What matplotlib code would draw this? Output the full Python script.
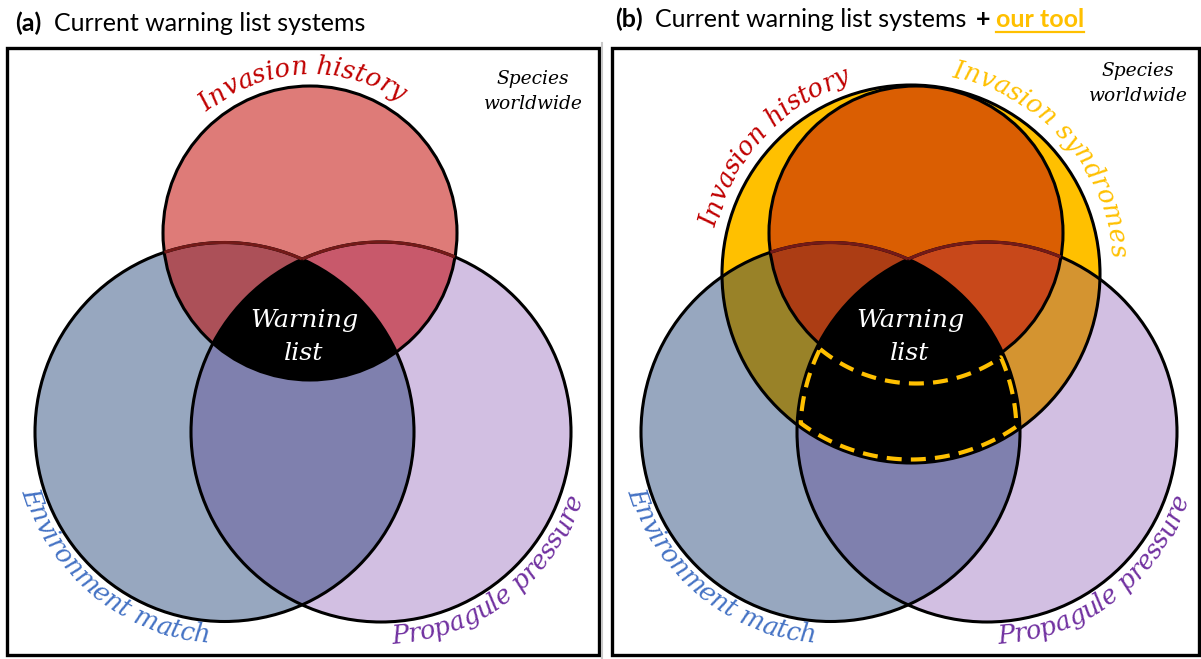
import numpy as np
import matplotlib
matplotlib.use("Agg")
import matplotlib.pyplot as plt
from matplotlib.patches import Circle, Rectangle
from matplotlib.font_manager import FontProperties
from matplotlib.colors import to_rgb

# ---------------- data ----------------
panel_tags = ["(a)", "(b)"]
title_text = "Current warning list systems"
plus_text = "+"
tool_text = "our tool"
label_history = "Invasion history"
label_env = "Environment match"
label_prop = "Propagule pressure"
label_syndromes = "Invasion syndromes"
universe_lines = ["Species", "worldwide"]
core_lines = ["Warning", "list"]

# region colours
col_red, col_blue, col_purple = "#DF7B79", "#97A7BF", "#D3BFE2"
col_bp, col_rb, col_rp, col_core = "#7F80AE", "#AC5058", "#C95A6B", "#000000"
col_yel, col_ry, col_yb, col_yp = "#FFC000", "#DA5E02", "#9A8229", "#D59430"
col_ryb, col_ryp = "#AC3D14", "#C9481A"
txt_red, txt_blue, txt_purple, txt_gold = "#C00000", "#4472C4", "#7030A0", "#FFC000"

# ---------------- layout (pixels, y down) ----------------
W, H = 1201, 659
DX = 606                      # horizontal offset of panel (b)
RED = (310.0, 233.0, 147.0)
BLUE = (224.5, 432.0, 189.5)
PURP = (381.0, 432.0, 190.0)
YEL = (305.0, 274.0, 189.0)   # panel (b) only

def shift(c, dx):
    return (c[0] + dx, c[1], c[2])

fig = plt.figure(figsize=(W / 100, H / 100), dpi=100)
ax = fig.add_axes([0, 0, 1, 1])
ax.set_xlim(0, W)
ax.set_ylim(H, 0)
ax.axis("off")
renderer = fig.canvas.get_renderer()

# ---------------- fills (per-pixel region membership) ----------------
ss = 0.5
xs = np.arange(0, W, ss) + ss / 2
ys = np.arange(0, H, ss) + ss / 2
X, Y = np.meshgrid(xs, ys)

def inside(c):
    return (X - c[0]) ** 2 + (Y - c[1]) ** 2 <= c[2] ** 2

img = np.ones(X.shape + (3,))

def paint(mask, col):
    img[mask] = to_rgb(col)

# panel (a)
Ra, Ba, Pa = inside(RED), inside(BLUE), inside(PURP)
paint(Ba, col_blue); paint(Pa, col_purple); paint(Ra, col_red)
paint(Ba & Pa, col_bp); paint(Ra & Ba, col_rb); paint(Ra & Pa, col_rp)
paint(Ra & Ba & Pa, col_core)

# panel (b)
Rb, Bb, Pb, Yb = (inside(shift(RED, DX)), inside(shift(BLUE, DX)),
                  inside(shift(PURP, DX)), inside(shift(YEL, DX)))
RY = Rb | Yb
paint(Bb, col_blue); paint(Pb, col_purple); paint(Bb & Pb, col_bp)
paint(Yb, col_yel); paint(Rb, col_ry)
paint(Yb & Bb & ~Rb, col_yb); paint(Yb & Pb & ~Rb, col_yp)
paint(Rb & Bb, col_ryb); paint(Rb & Pb, col_ryp)
paint(RY & Bb & Pb, col_core)

ax.imshow(img, extent=(0, W, H, 0), interpolation="antialiased", zorder=1)

# ---------------- outlines ----------------
LW = 2.2
def outline(c, color="black", lw=LW, z=3):
    ax.add_patch(Circle(c[:2], c[2], fill=False, ec=color, lw=lw, zorder=z))

t = np.linspace(0, 2 * np.pi, 4000)
def arc_pts(c):
    return c[0] + c[2] * np.cos(t), c[1] - c[2] * np.sin(t)

def in_c(x, y, c):
    return (x - c[0]) ** 2 + (y - c[1]) ** 2 < c[2] ** 2

for dx, has_yel in [(0, False), (DX, True)]:
    b, p, r = shift(BLUE, dx), shift(PURP, dx), shift(RED, dx)
    outline(b); outline(p)
    if has_yel:
        outline(shift(YEL, dx))
    outline(r)
    # dark red segments of top arcs seen through the red circle
    for c, other in [(b, p), (p, b)]:
        x, y = arc_pts(c)
        m = in_c(x, y, r) & ~in_c(x, y, other)
        ax.plot(x[m], y[m], color="#741A18", lw=LW, zorder=3.5, solid_capstyle="butt")

# dashed outline of the extra area found by the tool
def sdist(c):
    return c[2] - np.hypot(X - c[0], Y - c[1])
F = np.minimum.reduce([sdist(shift(YEL, DX)), sdist(shift(BLUE, DX)),
                       sdist(shift(PURP, DX)), -sdist(shift(RED, DX))])
win = (X > DX + 150) & (X < DX + 470) & (Y > 330) & (Y < 480)
F = np.where(win, F, -50)
cs = ax.contour(X, Y, F, levels=[3.5], colors=txt_gold, linewidths=3.0, zorder=4)
cs.set_linestyle((0, (3.6, 2.2)))

# panel boxes
ax.add_patch(Rectangle((6.5, 48), 592, 607, fill=False, ec="black", lw=2.4, zorder=6))
ax.add_patch(Rectangle((612, 48), 586.5, 607, fill=False, ec="black", lw=2.4, zorder=6))
ax.plot([601.5, 601.5], [43, H], color="#C8C8C8", lw=1.5, zorder=6)

# ---------------- text helpers ----------------
def width(s, prop):
    return renderer.get_text_width_height_descent(s, prop, ismath=False)[0]

def fit_size(s, target, **kw):
    p = FontProperties(size=20, **kw)
    return 20 * target / width(s, p)

def advances(s, prop):
    sp = width("a a", prop) - width("aa", prop)
    return [sp if ch == " " else width(ch, prop) for ch in s]

def arc_text(s, c, R, theta_c, prop, color, mode):
    adv = advances(s, prop)
    L = sum(adv)
    pos = 0.0
    th0 = np.radians(theta_c)
    for ch, a in zip(s, adv):
        mid = (pos + a / 2) / R
        if mode == "top":
            th = th0 + (L / 2) / R - mid
            rot = np.degrees(th) - 90
        else:
            th = th0 - (L / 2) / R + mid
            rot = np.degrees(th) + 90
        pos += a
        if ch == " ":
            continue
        ax.text(c[0] + R * np.cos(th), c[1] - R * np.sin(th), ch, fontproperties=prop,
                color=color, rotation=rot, rotation_mode="anchor",
                ha="center", va="baseline", zorder=7)

serif = dict(family="DejaVu Serif", style="italic")
fs_lab = fit_size(label_history, 208, **serif)
p_lab = FontProperties(size=fs_lab, **serif)

# panel (a) curved labels
arc_text(label_history, RED, RED[2] + 12, 93, p_lab, txt_red, "top")
arc_text(label_env, BLUE, BLUE[2] + 22, 231, p_lab, txt_blue, "bottom")
arc_text(label_prop, PURP, PURP[2] + 22, 307.5, p_lab, txt_purple, "bottom")
# panel (b) curved labels
yb = shift(YEL, DX)
arc_text(label_history, yb, yb[2] + 12, 137, p_lab, txt_red, "top")
arc_text(label_syndromes, yb, yb[2] + 12, 41.5, p_lab, txt_gold, "top")
arc_text(label_env, shift(BLUE, DX), BLUE[2] + 22, 231, p_lab, txt_blue, "bottom")
arc_text(label_prop, shift(PURP, DX), PURP[2] + 22, 307.5, p_lab, txt_purple, "bottom")

# universe + core labels
p_uni = FontProperties(size=fit_size(universe_lines[1], 99, **serif), **serif)
for xc, y0 in [(533, 84), (1138, 76)]:
    ax.text(xc, y0, universe_lines[0], fontproperties=p_uni,
            ha="center", va="baseline", zorder=7)
    ax.text(xc, y0 + 25, universe_lines[1], fontproperties=p_uni,
            ha="center", va="baseline", zorder=7)

p_core = FontProperties(size=fit_size(core_lines[0], 108, **serif), **serif)
for dx in (0, DX):
    ax.text(304 + dx, 327, core_lines[0], fontproperties=p_core, color="white",
            ha="center", va="baseline", zorder=7)
    ax.text(304 + dx, 360, core_lines[1], fontproperties=p_core, color="white",
            ha="center", va="baseline", zorder=7)

# ---------------- titles ----------------
sans = dict(family="Lato")
fs_t = fit_size(title_text, 313, **sans)
p_reg = FontProperties(size=fs_t, **sans)
p_bold = FontProperties(size=fs_t, weight="bold", **sans)

ax.text(15, 31, panel_tags[0], fontproperties=p_bold, ha="left", va="baseline", zorder=7)
ax.text(54, 31, title_text, fontproperties=p_reg, ha="left", va="baseline", zorder=7)

ax.text(615, 27, panel_tags[1], fontproperties=p_bold, ha="left", va="baseline", zorder=7)
ax.text(655, 27, title_text, fontproperties=p_reg, ha="left", va="baseline", zorder=7)
ax.text(976, 27, plus_text, fontproperties=p_bold, ha="left", va="baseline", zorder=7)
x_tool = 996
ax.text(x_tool, 27, tool_text, fontproperties=p_bold, color=txt_gold,
        ha="left", va="baseline", zorder=7)
w_tool = width(tool_text, p_bold)
ax.plot([x_tool, x_tool + w_tool], [32, 32], color=txt_gold, lw=1.6, zorder=7)

fig.savefig("out.png", dpi=100)
